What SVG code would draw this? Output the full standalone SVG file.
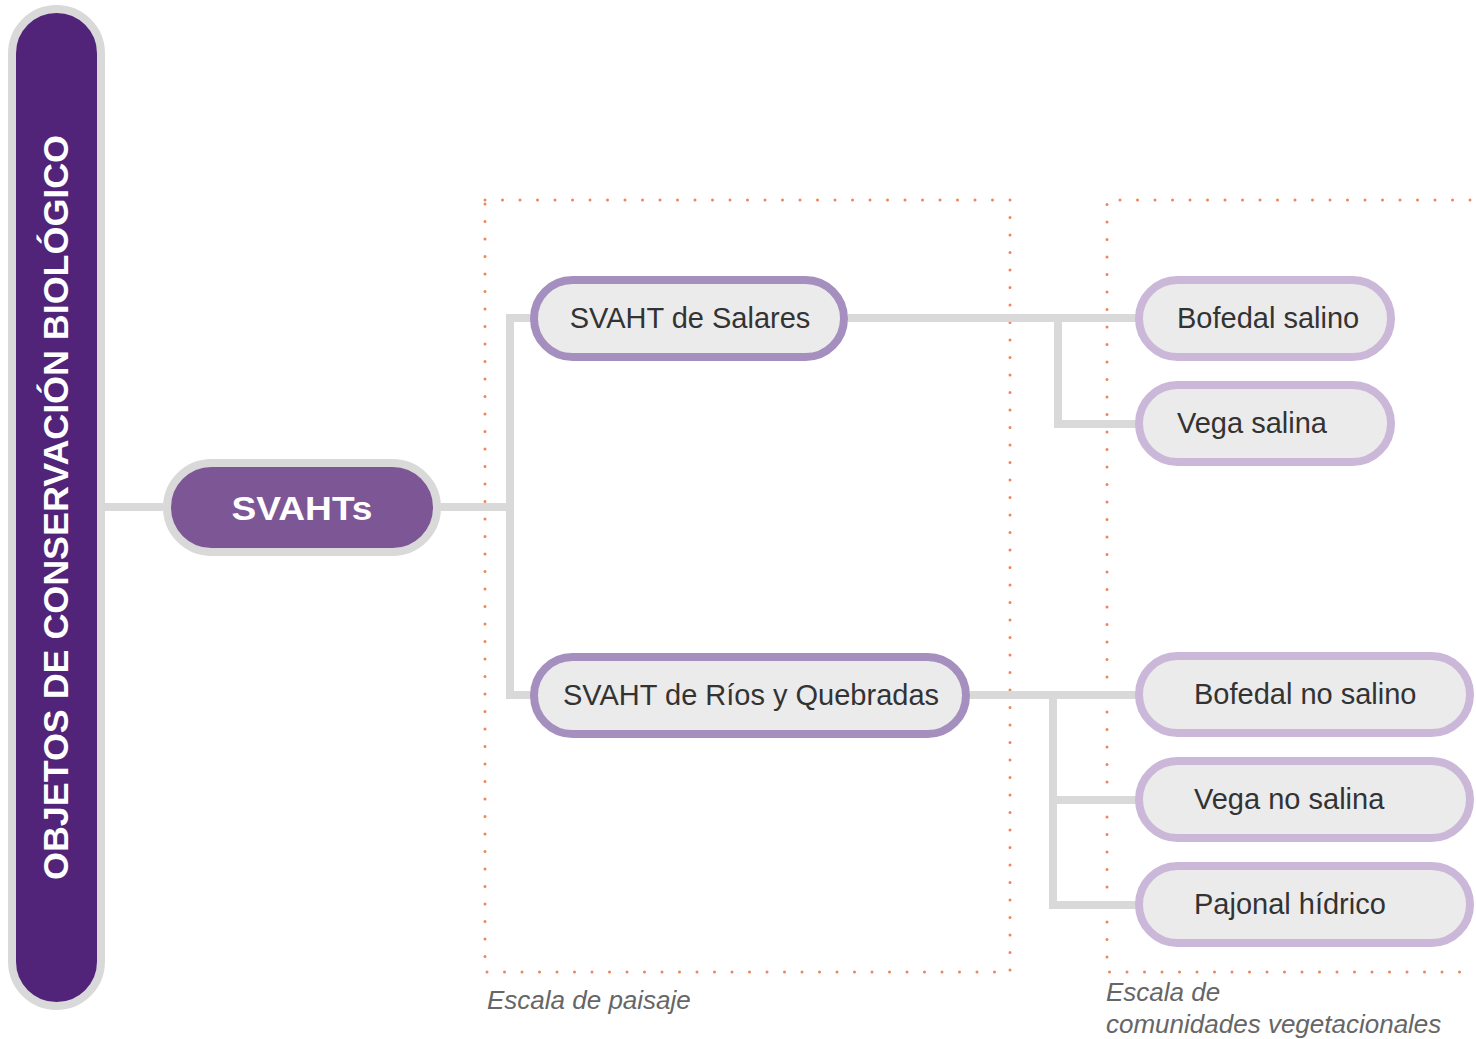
<svg xmlns="http://www.w3.org/2000/svg" width="1476" height="1039" viewBox="0 0 1476 1039">
<style>
.conn{fill:none;stroke:#d9d9d9;stroke-width:8;stroke-linejoin:miter}
.dots{fill:none;stroke:#f0845a;stroke-width:3;stroke-linecap:round;stroke-dasharray:0 17.5}
.mid{fill:#ebebeb;stroke:#a58fbf;stroke-width:8}
.leaf{fill:#ebebeb;stroke:#cbb8d8;stroke-width:8}
.lbl{font-family:"Liberation Sans",Arial,sans-serif;font-size:29px;fill:#333}
.cap{font-family:"Liberation Sans",Arial,sans-serif;font-size:26px;font-style:italic;fill:#666}
</style>
<rect width="1476" height="1039" fill="#fff"/>
<g id="scales">
<path class="dots" d="M485,200 H1010 V972 H485 Z"/>
<path class="dots" d="M1470,200 H1107 V972 H1470"/>
<text class="cap" x="487" y="1009">Escala de paisaje</text>
<text class="cap" x="1106" y="1001">Escala de</text>
<text class="cap" x="1106" y="1033">comunidades vegetacionales</text>
</g>
<g id="connectors">
<path class="conn" d="M105,507 H163"/>
<path class="conn" d="M441,507 H510 M535,318 H510 V695 H535"/>
<path class="conn" d="M848,318 H1137 M1058,318 V424 H1137"/>
<path class="conn" d="M970,695 H1137 M1053,695 V905 H1137 M1053,800 H1137"/>
</g>
<g id="root">
<rect x="12" y="9" width="89" height="997" rx="44.5" fill="#51247a" stroke="#d9d9d9" stroke-width="8"/>
<text transform="translate(68,507.5) rotate(-90)" text-anchor="middle" font-family="'Liberation Sans',Arial,sans-serif" font-weight="bold" font-size="35" fill="#fff" textLength="745" lengthAdjust="spacingAndGlyphs">OBJETOS DE CONSERVACIÓN BIOLÓGICO</text>
</g>
<g id="svahts">
<rect x="167" y="463" width="270" height="89" rx="44.5" fill="#7d5696" stroke="#d9d9d9" stroke-width="8"/>
<text x="302" y="520" text-anchor="middle" font-family="'Liberation Sans',Arial,sans-serif" font-weight="bold" font-size="34" fill="#fff" textLength="141" lengthAdjust="spacingAndGlyphs">SVAHTs</text>
</g>
<g id="salares">
<rect class="mid" x="534" y="280" width="310" height="77" rx="38.5"/>
<text class="lbl" x="690" y="328" text-anchor="middle">SVAHT de Salares</text>
</g>
<g id="rios">
<rect class="mid" x="534" y="657" width="432" height="77" rx="38.5"/>
<text class="lbl" x="751" y="705" text-anchor="middle">SVAHT de Ríos y Quebradas</text>
</g>
<g id="bofedal-salino">
<rect class="leaf" x="1139" y="280" width="252" height="77" rx="38.5"/>
<text class="lbl" x="1177" y="328">Bofedal salino</text>
</g>
<g id="vega-salina">
<rect class="leaf" x="1139" y="385" width="252" height="77" rx="38.5"/>
<text class="lbl" x="1177" y="433">Vega salina</text>
</g>
<g id="bofedal-no-salino">
<rect class="leaf" x="1139" y="656" width="331" height="77" rx="38.5"/>
<text class="lbl" x="1194" y="704">Bofedal no salino</text>
</g>
<g id="vega-no-salina">
<rect class="leaf" x="1139" y="761" width="331" height="77" rx="38.5"/>
<text class="lbl" x="1194" y="809">Vega no salina</text>
</g>
<g id="pajonal-hidrico">
<rect class="leaf" x="1139" y="866" width="331" height="77" rx="38.5"/>
<text class="lbl" x="1194" y="914">Pajonal hídrico</text>
</g>
</svg>
